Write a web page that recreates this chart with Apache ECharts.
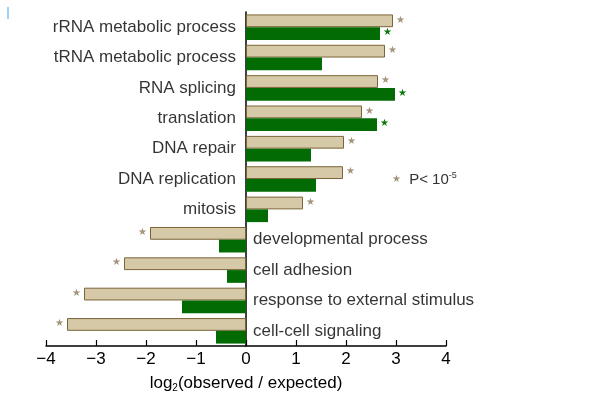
<!DOCTYPE html>
<html><head><meta charset="utf-8">
<script src="https://cdn.jsdelivr.net/npm/echarts@6/dist/echarts.min.js"></script>
<style>html,body{margin:0;padding:0;background:#fff}#c{width:600px;height:407px}</style>
</head><body><div id="c"></div>
<script>
const categories = ['rRNA metabolic process','tRNA metabolic process','RNA splicing','translation','DNA repair','DNA replication','mitosis','developmental process','cell adhesion','response to external stimulus','cell-cell signaling'];
const tanValues = [2.94, 2.78, 2.64, 2.32, 1.96, 1.94, 1.14, -1.92, -2.44, -3.24, -3.58];
const greenValues = [2.68, 1.52, 2.98, 2.62, 1.30, 1.40, 0.44, -0.54, -0.38, -1.28, -0.60];
const tanSignificant = [1,1,1,1,1,1,1,1,1,1,1];
const greenSignificant = [1,0,1,1,0,0,0,0,0,0,0];
const xTicks = [-4,-3,-2,-1,0,1,2,3,4];

const font = 'Liberation Sans, Arial, sans-serif';
const tanFill = '#d6c9a8', tanBorder = '#7a6536', tanStar = '#a3947a';
const green = '#036b03', greenStar = '#0a7a0a';
const textColor = '#000';

function barData(vals, sig, starColor){
  return vals.map((v,i)=>({
    value: v,
    label: {
      show: !!sig[i], formatter: '★', color: starColor, fontSize: 10,
      position: v >= 0 ? 'right' : 'left', distance: 3, offset:[0,-1]
    }
  }));
}

const chart = echarts.init(document.getElementById('c'));
chart.setOption({
  animation: false,
  grid: {left: 46, right: 154, top: 12, bottom: 61, containLabel: false},
  xAxis: {
    type: 'value', min: xTicks[0], max: xTicks[xTicks.length-1], interval: 1,
    splitLine: {show: false},
    axisLine: {show: true, lineStyle: {color: '#000', width: 1.5}},
    axisTick: {show: true, inside: true, length: 6, lineStyle: {color: '#000', width: 1.2}},
    axisLabel: {color: textColor, fontSize: 17, fontFamily: font, margin: 5,
      formatter: v => (v < 0 ? '\u2212' + Math.abs(v) : String(v))},
    name: 'log{sub|2}(observed / expected)',
    nameLocation: 'middle', nameGap: 28,
    nameTextStyle: {color: textColor, fontSize: 17, fontFamily: font,
      rich: {sub: {fontSize: 10, verticalAlign: 'bottom', padding: [9,0,0,0], color: textColor, fontFamily: font}}}
  },
  yAxis: {
    type: 'category', data: categories, inverse: true,
    axisLine: {show: true, onZero: true, lineStyle: {color: '#000', width: 1.5}},
    axisTick: {show: false}, axisLabel: {show: false}, splitLine: {show: false}
  },
  series: [
    {type: 'bar', name: 'tan', data: barData(tanValues, tanSignificant, tanStar),
     barGap: '0%', barCategoryGap: '16%',
     itemStyle: {color: tanFill, borderColor: tanBorder, borderWidth: 1}},
    {type: 'bar', name: 'green', data: barData(greenValues, greenSignificant, greenStar),
     itemStyle: {color: green}},
    {type: 'scatter', symbolSize: 0, silent: true,
     data: categories.map((c,i)=>({
       value: [0, c],
       label: {show: true, formatter: c, position: tanValues[i] >= 0 ? 'left' : 'right',
         distance: tanValues[i] >= 0 ? 10 : 7, color: textColor, fontSize: 17, fontFamily: font}
     }))}
  ],
  graphic: [{
    type: 'text', left: 392, top: 171,
    style: {
      text: '{s|★} P< 10{sup|-5}',
      fontSize: 15, fontFamily: font, fill: '#333',
      rich: {s: {fontSize: 10, fill: tanStar, padding:[0,4,0,0]}, sup: {fontSize: 9, fill: '#333', verticalAlign: 'top', padding:[0,0,8,0]}}
    }
  }, {
    type: 'rect', left: 7, top: 7, shape: {width: 2, height: 12}, style: {fill: '#9fd3f5'}
  }]
});
</script></body></html>
